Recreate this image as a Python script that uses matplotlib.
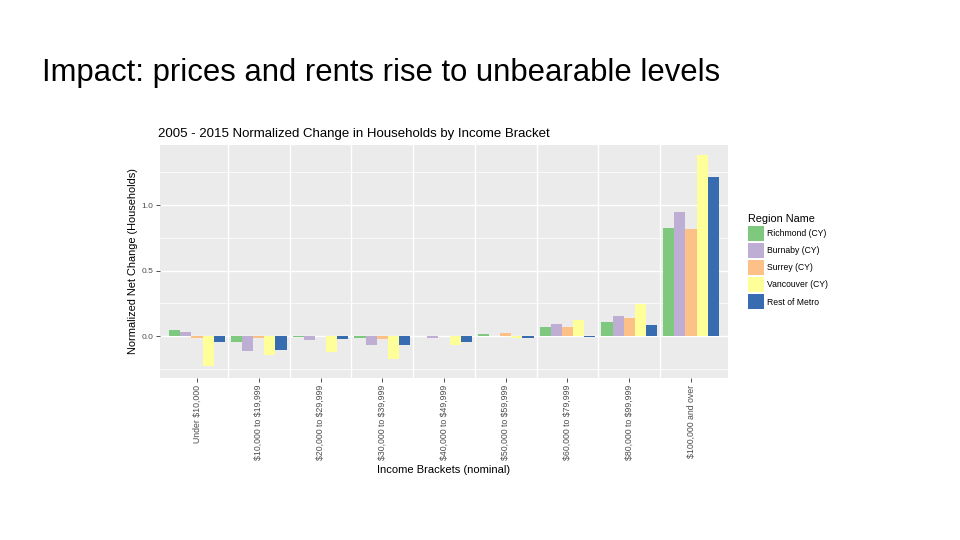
import matplotlib.pyplot as plt
import numpy as np

plt.rcParams['font.family'] = ['Liberation Sans', 'DejaVu Sans']

# income brackets (x axis)
brackets = ['Under \\$10,000', '\\$10,000 to \\$19,999', '\\$20,000 to \\$29,999',
            '\\$30,000 to \\$39,999', '\\$40,000 to \\$49,999', '\\$50,000 to \\$59,999',
            '\\$60,000 to \\$79,999', '\\$80,000 to \\$99,999', '\\$100,000 and over']

regions = ['Richmond (CY)', 'Burnaby (CY)', 'Surrey (CY)', 'Vancouver (CY)', 'Rest of Metro']
colors = ['#7FC97F', '#BEAED4', '#FDC086', '#FFFF99', '#386CB0']

# normalized net change per region
richmond = [0.050, -0.046, -0.008, -0.013, 0.000, 0.015, 0.068, 0.106, 0.823]
burnaby = [0.035, -0.110, -0.033, -0.070, -0.013, 0.002, 0.094, 0.154, 0.947]
surrey = [-0.015, -0.018, -0.002, -0.020, 0.000, 0.020, 0.068, 0.139, 0.818]
vancouver = [-0.230, -0.147, -0.120, -0.177, -0.068, -0.015, 0.124, 0.248, 1.380]
rest_of_metro = [-0.043, -0.106, -0.025, -0.066, -0.046, -0.013, -0.008, 0.086, 1.215]

series = [richmond, burnaby, surrey, vancouver, rest_of_metro]

fig = plt.figure(figsize=(9.6, 5.4), dpi=100)
fig.patch.set_facecolor('white')

fig.text(42 / 960, 1 - 73 / 540, 'Impact: prices and rents rise to unbearable levels',
         fontsize=22.3, va='center', ha='left', color='black')

ax = fig.add_axes([160 / 960, 1 - 378 / 540, 568 / 960, 233 / 540])
ax.set_facecolor('#EBEBEB')

x = np.arange(len(brackets))
w = 0.9 / len(regions)
for i, (vals, name, c) in enumerate(zip(series, regions, colors)):
    ax.bar(x - 0.45 + w * (i + 0.5), vals, width=w, color=c, label=name, zorder=3)

ax.set_xlim(-0.6, len(brackets) - 0.4)
ax.set_ylim(-0.32, 1.46)

ax.set_yticks([0.0, 0.5, 1.0])
ax.set_yticklabels(['0.0', '0.5', '1.0'])
ax.set_yticks([-0.25, 0.25, 0.75, 1.25], minor=True)
ax.set_xticks(x)
ax.set_xticklabels(brackets, rotation=90)
ax.set_xticks(x[:-1] + 0.5, minor=True)

ax.grid(True, which='major', axis='y', color='white', linewidth=1.0, zorder=0)
ax.grid(True, which='minor', axis='y', color='white', linewidth=0.5, zorder=0)
ax.grid(True, which='minor', axis='x', color='white', linewidth=1.0, zorder=0)

for s in ax.spines.values():
    s.set_visible(False)

ax.tick_params(which='major', length=3, width=0.6, color='#333333',
               labelsize=6.3, labelcolor='#4D4D4D', pad=2)
ax.tick_params(axis='y', labelsize=6)
ax.tick_params(which='minor', length=0)

ax.set_title('2005 - 2015 Normalized Change in Households by Income Bracket',
             fontsize=9.5, loc='left', x=-0.004, pad=6)
ax.set_xlabel('Income Brackets (nominal)', fontsize=8, labelpad=3)
ax.set_ylabel('Normalized Net Change (Households)', fontsize=7.9, labelpad=2)

leg = ax.legend(title='Region Name', loc='upper left', bbox_to_anchor=(1.03, 0.72),
                frameon=False, fontsize=6.2, title_fontsize=7.8,
                handlelength=1.85, handleheight=2.3, handletextpad=0.35,
                labelspacing=0.25, borderaxespad=0)
leg._legend_box.align = 'left'

plt.savefig('out.png', dpi=100)
plt.close()
